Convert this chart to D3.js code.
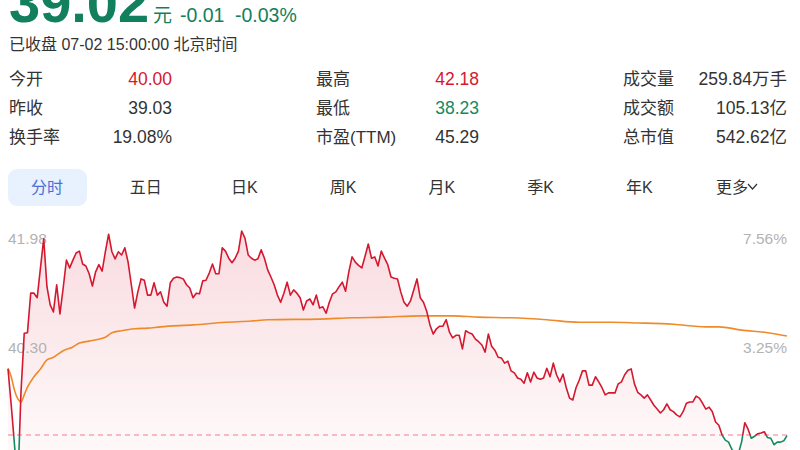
<!DOCTYPE html>
<html>
<head>
<meta charset="utf-8">
<script src="https://cdn.jsdelivr.net/npm/d3@7"></script>
<style>
  html, body { margin: 0; padding: 0; background: #fff; }
  svg { display: block; }
  text { font-family: "Liberation Sans", Arial, "Noto Sans CJK SC", sans-serif; }
</style>
</head>
<body>
<svg id="chart" width="800" height="450"></svg>
<script>
// ---------------- data ----------------
const prevClose = 39.03;
const highPrice = 42.18;
const lastPrice = "39.02";
const changeAbs = "-0.01";
const changePct = "-0.03%";
const statusText = "已收盘 07-02 15:00:00 北京时间";

const infoLabels = [["今开", "昨收", "换手率"], ["最高", "最低", "市盈(TTM)"], ["成交量", "成交额", "总市值"]];
const infoValues = [["40.00", "39.03", "19.08%"], ["42.18", "38.23", "45.29"], ["259.84万手", "105.13亿", "542.62亿"]];
const infoTones  = [["up", "flat", "flat"], ["up", "down", "flat"], ["flat", "flat", "flat"]];

const tabs = ["分时", "五日", "日K", "周K", "月K", "季K", "年K", "更多"];

const leftTicks = [41.98, 40.30];
const rightTicks = ["7.56%", "3.25%"];

// one price per trading minute (0 = 09:30 ... 240 = 15:00)
const prices = [
  40.05, 39.49, 38.88, 38.23, 39.69, 40.60, 40.61, 41.22, 41.22, 41.15,
  41.61, 42.06, 41.32, 41.04, 40.93, 41.35, 40.90, 41.30, 41.73, 41.61,
  41.73, 41.84, 41.87, 41.67, 41.64, 41.52, 41.33, 41.55, 41.66, 41.56,
  41.86, 42.13, 41.86, 41.75, 41.86, 41.81, 41.92, 41.70, 41.35, 40.99,
  41.24, 41.44, 41.42, 41.19, 41.19, 41.38, 41.19, 41.24, 41.08, 41.02,
  41.38, 41.45, 41.47, 41.46, 41.44, 41.35, 41.30, 41.15, 41.22, 41.21,
  41.41, 41.42, 41.53, 41.67, 41.52, 41.52, 41.92, 41.87, 41.76, 41.69,
  41.76, 41.87, 42.18, 42.07, 41.81, 41.76, 41.73, 41.75, 41.89, 41.76,
  41.58, 41.47, 41.35, 41.19, 41.08, 41.22, 41.39, 41.19, 41.27, 41.22,
  41.15, 40.96, 41.10, 41.13, 41.04, 41.19, 40.99, 41.01, 40.91, 41.08,
  41.21, 41.24, 41.32, 41.39, 41.25, 41.55, 41.78, 41.70, 41.65, 41.61,
  41.79, 41.98, 41.76, 41.78, 41.64, 41.87, 41.76, 41.66, 41.47, 41.45,
  41.44, 41.24, 41.08, 41.02, 41.10, 41.27, 41.44, 41.15, 41.08, 40.94,
  40.73, 40.59, 40.67, 40.71, 40.71, 40.81, 40.62, 40.53, 40.57, 40.57,
  40.36, 40.64, 40.61, 40.59, 40.51, 40.47, 40.42, 40.31, 40.59, 40.40,
  40.34, 40.23, 40.22, 40.14, 40.17, 40.02, 39.99, 39.91, 39.89, 39.83,
  39.99, 39.85, 40.00, 39.91, 39.89, 39.91, 40.06, 39.93, 40.14, 39.96,
  39.85, 39.97, 39.76, 39.60, 39.57, 39.76, 39.88, 40.02, 40.02, 39.80,
  39.80, 39.93, 39.85, 39.76, 39.65, 39.68, 39.68, 39.68, 39.82, 39.85,
  39.96, 40.03, 40.05, 39.82, 39.69, 39.65, 39.60, 39.65, 39.57, 39.49,
  39.43, 39.37, 39.42, 39.51, 39.42, 39.39, 39.34, 39.31, 39.39, 39.52,
  39.54, 39.54, 39.63, 39.60, 39.52, 39.43, 39.46, 39.39, 39.23, 39.18,
  39.03, 38.95, 38.92, 38.81, 38.72, 38.74, 38.92, 39.22, 39.12, 38.98,
  39.01, 39.05, 39.06, 39.08, 38.99, 38.98, 38.88, 38.92, 38.92, 38.94,
  39.02
];

// average price line, read at these minutes
const avgMinutes = [0, 1, 2, 3, 4, 5, 6, 8, 10, 12, 14, 17, 20, 22, 25, 28, 30, 32, 35, 39, 43, 47, 57, 67, 75, 80, 96, 106, 116, 127, 137, 145, 155, 166, 176, 186, 194, 205, 215, 219, 226, 234, 240];
const avgPrices  = [40.06, 39.93, 39.72, 39.59, 39.54, 39.65, 39.77, 39.93, 40.05, 40.19, 40.23, 40.33, 40.39, 40.45, 40.48, 40.51, 40.54, 40.61, 40.64, 40.67, 40.68, 40.70, 40.73, 40.77, 40.79, 40.81, 40.82, 40.84, 40.85, 40.87, 40.87, 40.85, 40.84, 40.81, 40.77, 40.77, 40.76, 40.74, 40.70, 40.70, 40.65, 40.61, 40.56];

// ---------------- colours ----------------
const C = {
  up: "#d4182f", down: "#138a62", flat: "#333333", head: "#12805c",
  avg: "#ef8a2b", ref: "#f27b8f", axis: "#b3b3b3", tabActive: "#4b6fd8", tabBg: "#e8f1fe"
};

const svg = d3.select("#chart");

// ---------------- header ----------------
svg.append("text").attr("x", 9).attr("y", 22)
  .attr("font-size", 56).attr("font-weight", "bold").attr("fill", C.head).text(lastPrice);
svg.append("text").attr("x", 153).attr("y", 22)
  .attr("font-size", 19).attr("fill", C.head).attr("font-family", "Noto Sans CJK SC").text("元");
svg.append("text").attr("x", 180).attr("y", 22)
  .attr("font-size", 19.5).attr("fill", C.head).text(changeAbs);
svg.append("text").attr("x", 235).attr("y", 22)
  .attr("font-size", 19.5).attr("fill", C.head).text(changePct);
svg.append("text").attr("x", 9).attr("y", 50)
  .attr("font-size", 16).attr("fill", "#333").text(statusText);

// ---------------- info grid ----------------
const colLabelX = [9, 316, 623];
const colValueX = [172, 479, 787];
const rowY = [85, 114, 143];
infoLabels.forEach((col, ci) => {
  col.forEach((lab, ri) => {
    svg.append("text").attr("x", colLabelX[ci]).attr("y", rowY[ri])
      .attr("font-size", 17).attr("fill", "#333").text(lab);
    svg.append("text").attr("x", colValueX[ci]).attr("y", rowY[ri])
      .attr("text-anchor", "end").attr("font-size", 17.5)
      .attr("fill", C[infoTones[ci][ri]]).text(infoValues[ci][ri]);
  });
});

// ---------------- tabs ----------------
const tabScale = d3.scalePoint().domain(tabs).range([47, 738]);
svg.append("rect").attr("x", 8).attr("y", 169).attr("width", 79).attr("height", 37)
  .attr("rx", 9).attr("fill", C.tabBg);
tabs.forEach((t, i) => {
  svg.append("text").attr("x", tabScale(t) - (i === tabs.length - 1 ? 6 : 0)).attr("y", 193)
    .attr("text-anchor", "middle").attr("font-size", 16)
    .attr("fill", i === 0 ? C.tabActive : "#333").text(t);
});
// dropdown chevron after 更多
const lastX = tabScale(tabs[tabs.length - 1]) + 10;
svg.append("path")
  .attr("d", `M${lastX},184 L${lastX + 4.5},189 L${lastX + 9},184`)
  .attr("fill", "none").attr("stroke", "#333").attr("stroke-width", 1.2);

// ---------------- chart ----------------
const maxDev = highPrice - prevClose;
const x = d3.scaleLinear().domain([0, 240]).range([8, 787]);
const y = d3.scaleLinear().domain([prevClose - maxDev, prevClose + maxDev]).range([639, 231]);
const yRef = y(prevClose);

const defs = svg.append("defs");
const grad = defs.append("linearGradient").attr("id", "fillGrad")
  .attr("gradientUnits", "userSpaceOnUse").attr("x1", 0).attr("x2", 0)
  .attr("y1", y(prevClose + maxDev)).attr("y2", y(prevClose - maxDev));
grad.append("stop").attr("offset", "0%").attr("stop-color", "#d8203c").attr("stop-opacity", 0.16);
grad.append("stop").attr("offset", "50%").attr("stop-color", "#d8203c").attr("stop-opacity", 0.035);
grad.append("stop").attr("offset", "100%").attr("stop-color", "#d8203c").attr("stop-opacity", 0);

defs.append("clipPath").attr("id", "clipUp").append("rect")
  .attr("x", 0).attr("y", 0).attr("width", 800).attr("height", yRef);
defs.append("clipPath").attr("id", "clipDown").append("rect")
  .attr("x", 0).attr("y", yRef).attr("width", 800).attr("height", 800);

const area = d3.area().x((d, i) => x(i)).y0(y(prevClose - maxDev)).y1(d => y(d));
svg.append("path").datum(prices).attr("d", area).attr("fill", "url(#fillGrad)");

// previous close reference line
svg.append("line").attr("x1", x(0)).attr("x2", x(240)).attr("y1", yRef).attr("y2", yRef)
  .attr("stroke", C.ref).attr("stroke-width", 1).attr("stroke-dasharray", "5,4");

// axis labels
leftTicks.forEach(v => {
  svg.append("text").attr("x", 8).attr("y", y(v)).attr("font-size", 15.5)
    .attr("fill", C.axis).text(v.toFixed(2));
});
rightTicks.forEach((t, i) => {
  svg.append("text").attr("x", 787).attr("y", y(leftTicks[i])).attr("text-anchor", "end")
    .attr("font-size", 15.5).attr("fill", C.axis).text(t);
});

// average line
const avgLine = d3.line().x(d => x(d[0])).y(d => y(d[1])).curve(d3.curveMonotoneX);
svg.append("path").datum(avgMinutes.map((m, i) => [m, avgPrices[i]]))
  .attr("d", avgLine).attr("fill", "none").attr("stroke", C.avg).attr("stroke-width", 1.6);

// price line (red above previous close, green below)
const priceLine = d3.line().x((d, i) => x(i)).y(d => y(d));
svg.append("path").datum(prices).attr("d", priceLine).attr("fill", "none")
  .attr("stroke", C.up).attr("stroke-width", 1.6).attr("stroke-linejoin", "round")
  .attr("clip-path", "url(#clipUp)");
svg.append("path").datum(prices).attr("d", priceLine).attr("fill", "none")
  .attr("stroke", C.down).attr("stroke-width", 1.6).attr("stroke-linejoin", "round")
  .attr("clip-path", "url(#clipDown)");
</script>
</body>
</html>
